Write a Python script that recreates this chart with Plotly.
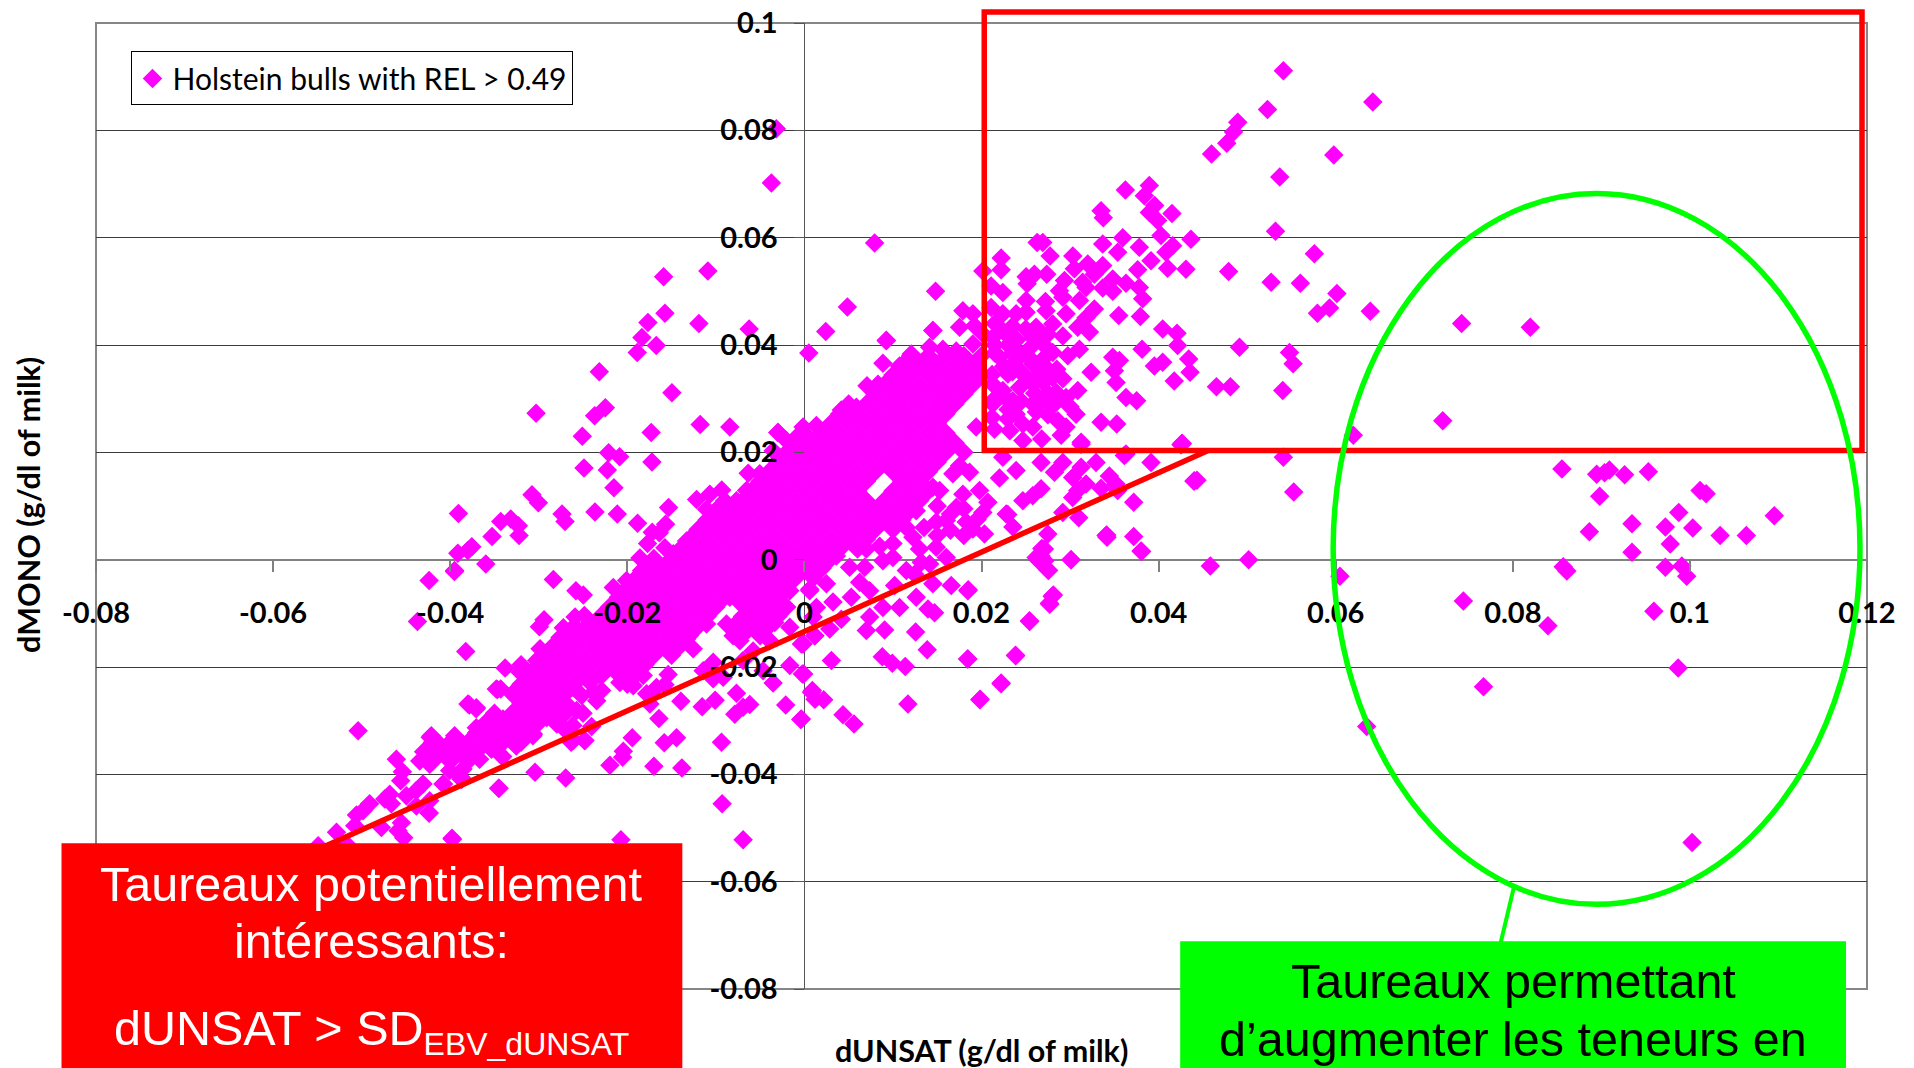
import plotly.graph_objects as go

# ---------- tick labels ----------
x_tick_values = [-0.08, -0.06, -0.04, -0.02, 0, 0.02, 0.04, 0.06, 0.08, 0.1, 0.12]
x_tick_labels = ["-0.08", "-0.06", "-0.04", "-0.02", "0", "0.02", "0.04", "0.06", "0.08", "0.1", "0.12"]
y_tick_values = [-0.08, -0.06, -0.04, -0.02, 0, 0.02, 0.04, 0.06, 0.08, 0.1]
y_tick_labels = ["-0.08", "-0.06", "-0.04", "-0.02", "0", "0.02", "0.04", "0.06", "0.08", "0.1"]
series_name = "Holstein bulls with REL > 0.49"

# ---------- bulls: (dUNSAT, dMONO) ----------
upper_left_bulls = [
(-.00317,.0803),(-.00373,.0702),(-.0159,.0527),(-.0109,.0538),(-.01575,.0459),(-.01767,.0442),(-.01192,.0440),(-.00624,.0430),
(-.01835,.0414),(-.01673,.0399),(-.01888,.0386),(.0005,.0385),(-.02316,.0350),(-.01496,.0311),(-.02248,.0283),(-.02369,.0268),
(-.0303,.0273),(-.02508,.0230),(-.0173,.0237),(-.01177,.0252),(-.00842,.0247),(-.02211,.0199),(-.02087,.0192),(-.02489,.0171),
(-.02226,.0167),(-.01722,.0182),(-.02151,.0134),(-.0030,.0237),(-.0009,.0225),(-.00635,.0161),(-.03076,.0121),(-.03004,.0106),
(-.02737,.0085),(-.02703,.0071),(-.02365,.0089),(-.02113,.0085),(-.01884,.0068),(-.01534,.0097),(-.01218,.0112),(-.01105,.0094),
(-.01068,.0122),(-.00933,.0130),(-.03907,.0086),(-.03429,.0071),(-.03316,.0076),(-.0323,.0063),(-.03222,.0045),(-.03527,.0043),
(-.03756,.0024),(-.03801,.0017),(-.03914,.0012),(-.03598,-.0008),(-.01857,.0003),(-.01771,.0030),(-.01568,.0066),(-.01639,.0050),
(-.01718,.0051),(-.01575,.0022),(-.01838,-.002),(-.01677,-.0016),(-.0395,-.0020),
]
lower_left_sparse_bulls = [
(-.04238,-.0039),(-.03952,-.0022),(-.02835,-.0037),(-.0258,-.0058),(-.02497,-.0066),(-.0437,-.0115),(-.03824,-.0171),(-.0294,-.0112),
(-.02993,-.0125),(-.02722,-.0127),(-.0259,-.0107),(-.02485,-.0104),(-.0338,-.0202),(-.03467,-.0242),(-.03430,-.0241),(-.03783,-.0271),
(-.03707,-.0278),(-.04226,-.0331),(-.03531,-.0353),(-.03407,-.0367),(-.03042,-.0396),(-.02696,-.0407),(-.03448,-.0426),(-.04076,-.0418),
(-.04238,-.0472),(-.03869,-.0409),(-.03974,-.0521),(-.02072,-.0522),(-.00692,-.0522),(-.00929,-.0455),(-.01944,-.0332),(-.01583,-.0341),
(-.01444,-.0332),(-.00936,-.0340),(-.02045,-.0357),(-.02053,-.0368),(-.02196,-.0383),(-.017,-.0385),(-.01384,-.0388),(-.01643,-.0296),
(-.01395,-.0264),(-.01154,-.0274),(-.01008,-.0262),(-.00767,-.0249),(-.00786,-.0288),(-.00692,-.0275),(-.00617,-.0270),(-.00211,-.0271),
(-.00041,-.0298),(-.00165,-.0197),(-.00023,-.0213),(-.00353,-.0230),(.0008,-.0247),(.0012,-.0260),(-.01538,-.0214),(-.02478,-.0337),
(-.0261,-.0337),(-.02685,-.0319),(-.02403,-.0311),(-.01745,-.0269),(-.01782,-.0250),(-.0167,-.0238),(-.01575,-.0233),
]
far_lower_left_bulls = [
(-.05040,-.0319),(-.04608,-.0372),(-.04540,-.0395),(-.04559,-.0412),(-.04344,-.0375),(-.04232,-.0381),(-.04081,-.0418),(-.03875,-.0406),
(-.03536,-.0353),(-.03412,-.0367),(-.03453,-.0426),(-.04683,-.0437),(-.04739,-.0446),(-.04664,-.0455),(-.0491,-.0455),(-.04984,-.0468),
(-.05059,-.0476),(-.05078,-.0496),(-.05284,-.0508),(-.05172,-.0530),(-.05491,-.0533),(-.04551,-.0490),(-.04589,-.0505),(-.04525,-.0518),
(-.04777,-.0499),(-.04239,-.0472),(-.03980,-.0519),(-.04495,-.0440),(-.04382,-.0430),(-.04307,-.0418),(-.04382,-.0459),(-.04232,-.0449),
(-.04213,-.0328),(-.04119,-.0344),(-.03950,-.0328),(-.03856,-.0344),(-.04119,-.0362),(-.03968,-.0362),(-.03780,-.0368),(-.03668,-.0372),
(-.04194,-.0347),(-.04006,-.0393),(-.03856,-.0390),(-.03875,-.0409),(-.03705,-.0313),(-.03536,-.0297),(-.03404,-.0297),(-.03630,-.0331),
(-.03442,-.0325),(-.03254,-.0347),(-.03254,-.0319),(-.03066,-.0328),(-.02690,-.0319),(-.02615,-.0309),(-.02483,-.0337),(-.02634,-.0340),
(-.03479,-.0241),(-.03799,-.0269),(-.03705,-.0276),
]
band_lower_bulls = [
(-.03211,-.0210),(-.03023,-.0213),(-.03098,-.0229),(-.03211,-.0256),(-.02948,-.0244),(-.02835,-.0250),(-.02760,-.0269),(-.03061,-.0275),
(-.03211,-.0288),(-.03061,-.0294),(-.02910,-.0294),(-.02797,-.0306),(-.03061,-.0325),(-.02572,-.0281),(-.02685,-.0269),(-.02610,-.0238),
(-.02760,-.0213),(-.02873,-.0226),(-.02515,-.0253),(-.02384,-.0247),(-.02290,-.0244),(-.02346,-.0263),(-.02421,-.0229),(-.02290,-.0216),
(-.02985,-.0166),(-.02835,-.0160),(-.02722,-.0157),(-.02647,-.0182),(-.02760,-.0188),(-.03023,-.0188),(-.02891,-.0188),(-.02497,-.0188),
(-.02572,-.0151),(-.02384,-.0139),(-.02233,-.0145),(-.02083,-.0151),(-.01933,-.0182),(-.02083,-.0210),(-.01933,-.0235),(-.01820,-.0216),
(-.02083,-.0229),(-.02271,-.0188),(-.02121,-.0182),(-.02421,-.0194),(-.01933,-.0163),(-.01782,-.0188),(-.01707,-.0163),(-.01895,-.0145),
(-.01481,-.0170),(-.01256,-.0166),(-.01331,-.0148),(-.01519,-.0139),(-.01707,-.0120),(-.01933,-.0114),(-.02158,-.0107),(-.02309,-.0107),
(-.02459,-.0123),(-.02610,-.0135),(-.02760,-.0145),(-.02158,-.0052),(-.02008,-.0039),(-.01857,-.0027),(-.01707,-.0021),(-.01519,-.0008),
(-.02008,-.0064),(-.02083,-.0083),(-.01857,-.0058),(-.01707,-.0045),(-.01519,-.0033),(-.01331,-.0014),(-.01143,-.0027),(-.00955,-.0052),
(-.00842,-.0070),(-.01105,-.0120),(-.01331,-.0095),(-.01632,-.0083),(-.01857,-.0089),(-.01481,-.0107),(-.01181,-.0076),(-.01369,-.0058),
(-.01143,-.0052),(-.00955,-.0021),(-.00767,-.0039),(-.00541,-.0076),(-.00353,-.0070),(-.00504,-.0039),(-.00278,-.0033),(-.00109,-.0027),
(-.00165,-.0058),(.00060,-.0055),(-.00711,-.0083),(-.00880,-.0120),(-.00617,-.0095),(-.00335,-.0117),(-.00466,-.0107),(-.00579,-.0120),
(-.00805,-.0142),(-.00729,-.0151),(-.00579,-.0170),(-.00391,-.0151),(-.00165,-.0126),(-.00034,-.0157),(.00117,-.0142),(-.00429,-.0083),
(.00098,-.0107),(-.01030,-.0191),(-.01143,-.0207),(-.01030,-.0222),(-.00917,-.0219),(-.00466,-.0207),(-.00692,-.0188),
]
band_middle_bulls = [
(-.01481,.0011),(-.01331,.0035),(-.01143,.0060),(-.00955,.0091),(-.00767,.0110),(-.00654,.0129),(-.00504,.0160),(-.00353,.0203),
(-.00203,.0222),(-.00015,.0247),(-.01293,.0004),(-.01105,.0029),(-.00917,.0054),(-.00729,.0079),(-.00541,.0104),(-.00353,.0141),
(-.00297,.0237),(-.00090,.0228),(.00135,.0250),(.00417,.0279),(.00587,.0284),(.00707,.0324),(.00831,.0327),(.01075,.0361),
(.01207,.0383),(.00887,.0366),(.00925,.0409),(.00241,.0425),(.00485,.0471),(.01481,.0500),(.01414,.0396),(.01564,.0392),
(.01451,.0427),(.01752,.0433),(.01790,.0464),(.01903,.0458),(.01715,.0389),(.01903,.0402),(.0202,.0420),(.02279,.0085),
(.02749,.0048),(.03407,.0045),
]
below_band_bulls = [
(.00286,.0029),(.00436,.0035),(.01226,.0042),(.01263,.0091),(.01188,.0116),
(.01451,.0135),(.01527,.0129),(.00361,.0007),(.00511,-.0014),(.00681,-.0014),(.00887,-.0002),(.01000,.0004),(.01320,-.0005),
(.01414,-.0008),(.01489,.0023),(.01602,.0004),(.00248,-.0045),(.00060,-.0058),(.00624,-.0042),(.00323,-.0079),(.00530,-.0070),(.00737,-.0058),
(.00887,-.0089),(.01019,-.0048),(.01151,-.0020),(.01245,-.0027),(.01451,-.0045),(.01263,-.0070),(.01075,-.0089),(.01395,-.0092),(.01470,-.0099),
(.01658,-.0048),(.01846,-.0058),(.00737,-.0107),(.00699,-.0132),(.00906,-.0131),(.01256,-.0135),(.00286,-.0129),(.00117,-.0142),(.00417,-.0111),
(-.00015,-.0157),(.00305,-.0188),(.01387,-.0168),(.01846,-.0185),(.02384,-.0178),(.00880,-.0181),(.00993,-.0193),(.01139,-.0199),(-.00008,-.0213),
(.00090,-.0244),(.00218,-.0261),(.01169,-.0269),(.00436,-.0289),(.00560,-.0306),(.01985,-.0260),(.02222,-.0230),(-.00034,-.0297),(.02542,-.0114),
(.02767,-.0081),(.02812,-.0066),(.02749,-.0019),(.02617,.0004),(.02711,.0020),(.02673,.0007),(.03012,.0000),(.03801,.0016),(.03719,.0043),
(.03414,.0046),(.02354,.0061),(.02297,.0084),(.02918,.0088),(.03098,.0078),(.03719,.0107),(.03350,.0133),(.03087,.0129),(.03181,.0141),(.03030,.0116),
(.02467,.0110),(.02579,.0119),(.02673,.0132),(.02203,.0152),(.01978,.0129),(.02072,.0107),(.02015,.0088),(.02034,.0048),(.01827,.0070),(.01903,.0057),
(.01715,.0097),(.01602,.0073),(.01489,.0070),(.01790,.0122),(.01752,.0175),(.01677,.0160),(.01865,.0163),(.02391,.0166),(.02241,.0191),(.02673,.0181),
(.02824,.0163),(.02918,.0181),(.03125,.0172),(.03030,.0153),(.03294,.0181),(.03444,.0156),(.03519,.0141),(.03538,.0129),(.03914,.0181),(.03613,.0194),
(.04403,.0147),(.04253,.0214),(.03125,.0215),(.00135,-.0089),
(.02798,-.0068),(.02771,-.0083),(.02544,-.0115),(.01850,-.0056),(.02386,-.0179),(.01843,-.0185),(.02221,-.0231),(.01981,-.0261),
(.03417,.0042),(.03011,-.0000),(.02757,-.0020),(.02681,.0021),(.02647,-.0002),(.02716,-.0002),
(.0150,.0100),(.0165,.0085),(.0180,.0095),(.0195,.0075),(.0165,.0055),(.0180,.0045),(.0150,.0045),(.0135,.0060),(.0130,.0020),
(.0115,.0060),(.0100,.0030),(.0085,.0025),(.0070,.0020),(.0105,.0075),(.0085,.0085),(.0070,.0080),
]
upper_cloud_bulls = [
(.03625,.0689),(.03895,.0697),(.03839,.0678),(.03956,.0660),(.04151,.0645),(.03895,.0647),(.03989,.0632),(.03350,.0650),(.03376,.0637),
(.04027,.0604),(.04365,.0597),(.03595,.0600),(.03369,.0588),(.03538,.0573),(.03782,.0582),(.04159,.0585),(.04083,.0573),(.03914,.0557),
(.03764,.0540),(.04102,.0543),(.04309,.0541),(.02628,.0591),(.02692,.0591),(.02775,.0566),(.02222,.0562),(.02222,.0540),(.02015,.0538),
(.00793,.0590),(.03031,.0566),(.03049,.0542),(.03200,.0551),(.03369,.0548),(.03275,.0532),(.02504,.0527),(.02598,.0532),(.02737,.0532),
(.02515,.0514),(.02109,.0510),(.02241,.0498),(.03482,.0523),(.03632,.0515),(.03369,.0506),(.03482,.0500),(.03782,.0507),(.03820,.0486),
(.02937,.0520),(.02880,.0501),(.03143,.0517),(.03181,.0507),(.02918,.0489),(.03106,.0483),(.02504,.0483),(.02722,.0481),(.00925,.0408),
(.01451,.0427),(.01921,.0436),(.02109,.0470),(.02241,.0458),(.02391,.0458),(.02504,.0461),(.02730,.0464),(.02955,.0458),(.03275,.0467),
(.03181,.0451),(.03087,.0433),(.03219,.0424),(.03550,.0455),(.03794,.0453),(.02617,.0433),(.02805,.0439),(.02918,.0417),(.02279,.0420),
(.02128,.0414),(.02579,.0414),(.02692,.0402),(.03106,.0392),(.02974,.0380),(.04046,.0430),(.04208,.0422),(.04215,.0399),(.03813,.0392),
(.03482,.0377),(.03557,.0371),(.03501,.0352),(.03520,.0330),(.04340,.0374),(.04355,.0349),(.03952,.0361),(.04046,.0368),(.04177,.0333),
(.03238,.0349),(.02429,.0386),(.02579,.0365),(.02805,.0386),(.02730,.0358),(.02203,.0377),(.02297,.0346),(.02391,.0371),(.02918,.0337),
(.03087,.0315),(.02843,.0312),(.02579,.0327),(.02429,.0321),(.02241,.0315),(.02128,.0327),(.02692,.0296),(.02579,.0290),(.02354,.0296),
(.02805,.0287),(.02955,.0302),(.03632,.0302),(.03752,.0296),(.03068,.0271),(.02391,.0271),(.02297,.0262),(.02861,.0259),(.02955,.0247),
(.03350,.0256),(.03527,.0253),(.02579,.0247),(.02467,.0253),(.02147,.0243),(.02467,.0222),(.03125,.0219),(.04264,.0217),(.03632,.0197),
(.02128,.0290),(.01940,.0247),
(.0215,.0440),(.0235,.0435),(.0255,.0395),(.0275,.0420),(.0230,.0400),(.0225,.0360),(.0245,.0350),(.0262,.0342),(.0280,.0340),(.0212,.0345),
(.0228,.0300),(.0245,.0295),(.0262,.0275),(.0275,.0270),(.0212,.0265),(.0232,.0240),(.0268,.0225),(.0285,.0295),(.0300,.0285),(.0290,.0232),
(.0215,.0400),(.0225,.0425),(.0240,.0410),(.0250,.0430),(.0265,.0420),(.0215,.0385),(.0235,.0385),(.0255,.0375),(.0270,.0375),(.0235,.0350),
(.0250,.0340),(.0270,.0330),(.0285,.0355),(.0215,.0300),(.0230,.0280),(.0260,.0310),(.0275,.0310),
]
right_outlier_bulls = [
(.05409,.0911),(.06419,.0853),(.05230,.0839),(.04894,.0815),(.04846,.0797),(.04770,.0776),(.04598,.0756),(.05979,.0754),(.05368,.0713),
(.05320,.0612),(.05759,.0570),(.04791,.0537),(.05271,.0517),(.05601,.0515),(.06013,.0496),(.05931,.0469),(.05794,.0459),(.06391,.0463),
(.07422,.0440),(.08198,.0433),(.04914,.0396),(.05478,.0386),(.05519,.0365),(.05402,.0315),(.04653,.0322),(.04811,.0322),(.07209,.0259),
(.06199,.0232),(.04268,.0216),(.05409,.0191),(.04433,.0148),(.04400,.0146),(.05526,.0126),(.08555,.0169),(.08947,.0159),(.09091,.0167),
(.09036,.0162),(.09263,.0158),(.09531,.0164),(.08981,.0118),(.10115,.0129),(.10183,.0123),(.09874,.0088),(.10953,.0082),(.09346,.0067),
(.08865,.0052),(.09723,.0061),(.10032,.0059),(.10341,.0045),(.10637,.0045),(.09778,.0029),(.09346,.0014),(.09723,-.0014),(.09909,-.0012),
(.09964,-.0031),(.08569,-.0013),(.08610,-.0021),(.06048,-.0031),(.07442,-.0077),(.09593,-.0096),(.08397,-.0123),(.09868,-.0202),(.07669,-.0237),
(.06350,-.0311),(.10025,-.0527),(.04584,-.0012),(.05017,-.0000),(.03808,.0015),
]
# solid core of the cloud: dMONO row -> dUNSAT of the bulls in that row
core_rows = {
 .0380: [.012,.014,.016,.018,.020],
 .0362: [.011,.013,.015,.017,.019],
 .0344: [.010,.012,.014,.016,.018,.020],
 .0326: [.009,.011,.013,.015,.017,.019],
 .0308: [.008,.010,.012,.014,.016,.018],
 .0290: [.005,.007,.009,.011,.013,.015,.017],
 .0272: [.004,.006,.008,.010,.012,.014,.016],
 .0254: [.003,.005,.007,.009,.011,.013,.015],
 .0236: [.000,.002,.004,.006,.008,.010,.012,.014,.016],
 .0218: [-.001,.001,.003,.005,.007,.009,.011,.013,.015,.017],
 .0200: [-.002,.000,.002,.004,.006,.008,.010,.012,.014,.016,.018],
 .0182: [-.003,-.001,.001,.003,.005,.007,.009,.011,.013,.015],
 .0164: [-.004,-.002,.000,.002,.004,.006,.008,.010,.012,.014],
 .0146: [-.005,-.003,-.001,.001,.003,.005,.007,.011,.013],
 .0128: [-.006,-.004,-.002,.000,.002,.004,.006,.010,.012,.014],
 .0110: [-.009,-.007,-.005,-.003,-.001,.001,.003,.005,.007,.009,.011,.013],
 .0092: [-.010,-.008,-.006,-.004,-.002,.000,.002,.004,.006,.008,.010,.012],
 .0074: [-.011,-.009,-.007,-.005,-.003,-.001,.001,.003,.005,.007,.009,.011],
 .0056: [-.012,-.010,-.008,-.006,-.004,-.002,.000,.002,.004,.006,.008,.010],
 .0038: [-.013,-.011,-.009,-.007,-.005,-.003,-.001,.001,.003,.005,.007],
 .0020: [-.014,-.012,-.010,-.008,-.006,-.004,-.002,.000,.002,.004,.006],
 .0002: [-.017,-.015,-.013,-.011,-.009,-.007,-.005,-.003,-.001,.001,.003],
 -.0016: [-.018,-.016,-.014,-.012,-.010,-.008,-.006,-.004,-.002,.000,.002],
 -.0034: [-.019,-.017,-.015,-.013,-.011,-.009,-.007,-.005,-.003,-.001,.001],
 -.0052: [-.020,-.018,-.016,-.014,-.012,-.010,-.008,-.006,-.004,-.002],
 -.0070: [-.021,-.019,-.017,-.015,-.013,-.011,-.009,-.007,-.005,-.003],
 -.0088: [-.022,-.020,-.018,-.016,-.014,-.012,-.010,-.006,-.004,-.002],
 -.0106: [-.023,-.021,-.019,-.017,-.015,-.013,-.011,-.007,-.005,-.003],
 -.0124: [-.026,-.024,-.022,-.020,-.018,-.016,-.014,-.012,-.008,-.006,-.004],
 -.0142: [-.027,-.025,-.023,-.021,-.019,-.017,-.015,-.013,-.007,-.005],
 -.0160: [-.028,-.026,-.024,-.022,-.020,-.018,-.016,-.014],
 -.0178: [-.029,-.027,-.025,-.023,-.021,-.019,-.017,-.015],
 -.0196: [-.032,-.030,-.028,-.026,-.024,-.022,-.020,-.018],
 -.0214: [-.031,-.029,-.027,-.025,-.023,-.021,-.019],
 -.0232: [-.032,-.030,-.028,-.026,-.020],
 -.0250: [-.033,-.031,-.029,-.027],
 -.0268: [-.032,-.030,-.028],
 -.0286: [-.035,-.033,-.031,-.029,-.027,-.025],
 -.0304: [-.036,-.034,-.032,-.030,-.028],
 -.0322: [-.037,-.035,-.033,-.031],
 -.0340: [-.042,-.040,-.038,-.036,-.034,-.032],
 -.0358: [-.043,-.041,-.039,-.037],
 -.0376: [-.042,-.040,-.038],
}

bull_groups = [upper_left_bulls, lower_left_sparse_bulls, far_lower_left_bulls, band_lower_bulls,
               band_middle_bulls, below_band_bulls, upper_cloud_bulls, right_outlier_bulls]
dunsat = [p[0] for g in bull_groups for p in g] + [x for row in core_rows.values() for x in row]
dmono = [p[1] for g in bull_groups for p in g] + [y for y, row in core_rows.items() for _ in row]

# ---------- layout frame in page pixels ----------
W, H = 1914, 1068
L, R, T, B = 95.5, 1867.0, 22.5, 988.7
def xp(px): return (px - L) / (R - L)
def yp(py): return (B - py) / (B - T)

RED, GREEN = "#ff0000", "#00ff00"

fig = go.Figure(go.Scatter(x=dunsat, y=dmono, mode="markers", name=series_name,
                           marker=dict(symbol="diamond", size=15, color="#ff00ff", line=dict(width=0))))

def box(x0, y0, x1, y1, **kw):
    return dict(type="rect", xref="paper", yref="paper", x0=xp(x0), x1=xp(x1), y0=yp(y0), y1=yp(y1), **kw)
def seg(x0, y0, x1, y1, color, w):
    return dict(type="line", xref="paper", yref="paper", x0=xp(x0), x1=xp(x1), y0=yp(y0), y1=yp(y1),
                line=dict(color=color, width=w))

shapes = [
    dict(type="rect", xref="paper", yref="paper", x0=0, x1=1, y0=0, y1=1, layer="between",
         line=dict(color="#868686", width=2)),
    seg(1208, 450, 300, 857, RED, 5.5),
    box(984, 11.5, 1862, 450, line=dict(color=RED, width=5.5)),
    dict(type="circle", xref="paper", yref="paper", x0=xp(1333), x1=xp(1860), y0=yp(193), y1=yp(904),
         line=dict(color=GREEN, width=5.5)),
    seg(1514, 886, 1500, 945, GREEN, 4),
    box(61, 843, 682, 1068, line=dict(width=0), fillcolor=RED),
    box(1180, 941, 1846, 1068, line=dict(width=0), fillcolor=GREEN),
]

def note(text, px, py, color, size=48.5, family="Liberation Sans", **kw):
    return dict(text=text, x=xp(px), y=yp(py), xref="paper", yref="paper", showarrow=False,
                xanchor="center", yanchor="middle", font=dict(family=family, size=size, color=color), **kw)

annotations = [
    note("Taureaux potentiellement", 371, 884, "white"),
    note("intéressants:", 371, 941, "white"),
    note('dUNSAT > SD<sub><span style="font-size:32px">EBV_dUNSAT</span></sub>', 371, 1031, "white"),
    note("Taureaux permettant", 1513, 981, "black"),
    note("d’augmenter les teneurs en", 1513, 1039, "black"),
    note("<b>dUNSAT (g/dl of milk)</b>", 981, 1050, "black", size=30.5, family="Lato"),
    note("<b>dMONO (g/dl of milk)</b>", 28, 505, "black", size=30.5, family="Lato", textangle=-90),
]

tick_font = dict(family="Lato", size=29, color="black", weight="bold")
fig.update_layout(
    width=W, height=H, autosize=False,
    margin=dict(l=L, r=W - R, t=T, b=H - B, pad=0, autoexpand=False),
    paper_bgcolor="white", plot_bgcolor="white",
    shapes=shapes, annotations=annotations,
    showlegend=True,
    legend=dict(x=xp(131), y=yp(51), xanchor="left", yanchor="top", bgcolor="white",
                bordercolor="black", borderwidth=1,
                font=dict(family="Lato", size=30, color="black"), itemsizing="trace"),
    xaxis=dict(range=[-0.08, 0.12], tickmode="array", tickvals=x_tick_values, ticktext=x_tick_labels,
               anchor="free", position=0.08 / 0.18, showgrid=False, showline=False,
               zeroline=True, zerolinecolor="#555555", zerolinewidth=1,
               ticks="outside", ticklen=11, tickwidth=1.5, tickcolor="#808080",
               tickfont=tick_font, ticklabelstandoff=17, tickangle=0),
    yaxis=dict(range=[-0.08, 0.1], tickmode="array", tickvals=y_tick_values, ticktext=y_tick_labels,
               anchor="free", position=0.4, showgrid=True, gridcolor="#3c3c3c", gridwidth=1.4, showline=False,
               zeroline=True, zerolinecolor="#808080", zerolinewidth=2,
               ticks="outside", ticklen=10, tickwidth=1, tickcolor="#555555",
               tickfont=tick_font, ticklabelstandoff=11),
)

fig.write_html("out.html", config=dict(displayModeBar=False),
               post_script="document.body.style.margin='0';document.documentElement.style.overflow='hidden';")
